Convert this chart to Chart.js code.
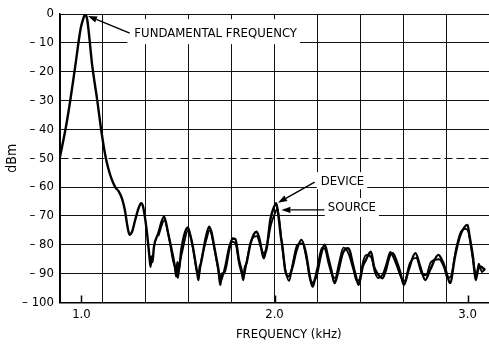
<!DOCTYPE html>
<html>
<head>
<meta charset="utf-8">
<script src="https://cdn.jsdelivr.net/npm/chart.js@4/dist/chart.umd.min.js"></script>
<style>
  html, body { margin: 0; padding: 0; background: #fff; overflow: hidden; }
  canvas { display: block; }
</style>
</head>
<body>
<canvas id="spectrum" width="493" height="346"></canvas>
<script>
// Spectrum of the device output vs. the source, 0.9 – 3.1 kHz
const FONT = "'Liberation Sans Narrow', 'DejaVu Sans Condensed', 'Arial Narrow', sans-serif";

const deviceFreq = [
  0.889, 0.920, 0.942, 0.967, 0.996, 1.010, 1.019, 1.030, 1.056, 1.082,
  1.104, 1.125, 1.141, 1.158, 1.175, 1.193, 1.210, 1.225, 1.238, 1.249,
  1.262, 1.278, 1.295, 1.309, 1.318, 1.328, 1.338, 1.346, 1.352, 1.358,
  1.363, 1.368, 1.375, 1.398, 1.428, 1.449, 1.474, 1.485, 1.491, 1.497,
  1.504, 1.517, 1.535, 1.551, 1.565, 1.577, 1.594, 1.600, 1.606, 1.612,
  1.619, 1.645, 1.662, 1.675, 1.688, 1.700, 1.710, 1.719, 1.727, 1.739,
  1.765, 1.782, 1.797, 1.816, 1.830, 1.838, 1.846, 1.855, 1.876, 1.906,
  1.918, 1.927, 1.944, 1.952, 1.961, 1.978, 1.995, 2.009, 2.021, 2.033,
  2.040, 2.047, 2.055, 2.072, 2.089, 2.115, 2.140, 2.163, 2.183, 2.197,
  2.210, 2.217, 2.243, 2.260, 2.277, 2.294, 2.311, 2.328, 2.354, 2.380,
  2.390, 2.405, 2.422, 2.436, 2.457, 2.473, 2.499, 2.516, 2.533, 2.559,
  2.576, 2.596, 2.613, 2.636, 2.653, 2.670, 2.695, 2.730, 2.755, 2.781,
  2.806, 2.849, 2.875, 2.892, 2.909, 2.935, 2.960, 2.986, 3.000, 3.011,
  3.028, 3.042, 3.054, 3.071, 3.090
];
const deviceDbm = [
  -49.5, -39.0, -30.0, -18.5, -5.0, -1.5, 0.0, -2.0, -18.0, -30.0,
  -41.0, -49.5, -54.0, -57.5, -60.0, -61.5, -64.0, -68.0, -73.5, -76.5,
  -75.5, -71.5, -67.5, -65.6, -66.5, -70.0, -75.0, -80.0, -84.0, -87.6,
  -84.0, -86.0, -81.0, -76.0, -70.3, -76.0, -84.0, -88.0, -91.0, -86.0,
  -89.0, -81.8, -76.0, -74.0, -77.0, -80.7, -87.6, -90.0, -92.2, -88.0,
  -86.4, -77.2, -73.7, -76.0, -80.7, -85.0, -88.7, -93.9, -90.0, -89.9,
  -81.8, -77.8, -78.0, -85.3, -89.0, -92.2, -88.0, -86.4, -79.5, -75.5,
  -77.0, -79.5, -84.7, -83.0, -80.7, -71.4, -67.3, -65.6, -70.3, -77.2,
  -80.0, -84.1, -88.7, -91.0, -88.7, -81.8, -78.3, -82.9, -91.0, -94.5,
  -92.0, -91.0, -82.9, -80.0, -84.1, -88.7, -93.3, -89.9, -82.9, -81.2,
  -82.0, -86.4, -91.0, -93.9, -87.6, -85.3, -82.4, -87.6, -89.9, -91.6,
  -89.0, -84.1, -82.9, -86.4, -89.9, -93.9, -88.7, -82.9, -87.6, -92.2,
  -88.7, -83.5, -86.4, -89.9, -93.3, -84.1, -77.2, -73.7, -73.1, -77.2,
  -84.1, -92.2, -88.7, -87.6, -89.0
];

const sourceFreq = [
  1.398, 1.430, 1.452, 1.476, 1.493, 1.500, 1.510, 1.520, 1.553, 1.580,
  1.597, 1.608, 1.622, 1.648, 1.664, 1.690, 1.712, 1.722, 1.742, 1.768,
  1.785, 1.800, 1.818, 1.840, 1.858, 1.880, 1.908, 1.930, 1.946, 1.964,
  1.982, 2.000, 2.015, 2.026, 2.037, 2.050, 2.060, 2.076, 2.093, 2.118,
  2.144, 2.166, 2.187, 2.200, 2.220, 2.246, 2.262, 2.280, 2.298, 2.314,
  2.332, 2.357, 2.383, 2.408, 2.426, 2.440, 2.460, 2.476, 2.502, 2.520,
  2.537, 2.562, 2.580, 2.600, 2.617, 2.640, 2.657, 2.674, 2.700, 2.734,
  2.760, 2.785, 2.810, 2.853, 2.879, 2.896, 2.913, 2.940, 2.965, 2.990,
  3.004, 3.016, 3.032, 3.046, 3.058, 3.075, 3.090
];
const sourceDbm = [
  -77.0, -71.5, -77.0, -86.0, -89.0, -91.5, -86.0, -83.0, -75.0, -82.0,
  -89.0, -90.5, -85.0, -78.0, -75.0, -82.0, -90.0, -92.5, -88.0, -80.0,
  -79.0, -80.0, -87.0, -91.0, -85.0, -78.5, -77.0, -81.0, -83.0, -79.0,
  -73.0, -69.5, -67.5, -72.0, -79.0, -86.0, -90.0, -92.5, -87.0, -80.0,
  -79.5, -85.0, -92.5, -93.0, -88.5, -81.0, -81.5, -86.5, -90.5, -91.5,
  -87.0, -81.0, -83.0, -88.5, -92.5, -92.0, -85.5, -83.5, -84.5, -89.5,
  -91.5, -90.0, -86.5, -82.5, -84.5, -88.5, -91.5, -92.5, -86.5, -84.5,
  -89.5, -90.5, -86.0, -85.0, -88.0, -91.5, -91.0, -81.5, -75.5, -74.5,
  -75.5, -80.0, -87.0, -90.5, -86.5, -89.5, -88.0
];

const freqLabels = [1.0, 2.0, 3.0];
const dbmTicks = [0, -10, -20, -30, -40, -50, -60, -70, -80, -90, -100];
const dashedDbm = -50;

// analyzer graticule: ten divisions of 2/9 kHz centred on 2.0 kHz
const freqMin = 8 / 9, freqMax = 28 / 9, divisionKHz = 2 / 9;
const graticule = [];
for (let i = 0; i <= 10; i++) graticule.push(freqMin + i * divisionKHz);

const near = (a, b) => Math.abs(a - b) < 1e-6;
const onGraticule = v => graticule.some(g => near(g, v));
const toPoints = (xs, ys) => xs.map((x, i) => ({ x, y: ys[i] }));

// callouts, anchored in data coordinates
const callouts = [
  { text: 'FUNDAMENTAL FREQUENCY', at: [1.274, -6.3], tail: [1.250, -6.6], tip: [1.034, -0.7], pad: [7, 3, 13, 12] },
  { text: 'DEVICE', at: [2.240, -57.6], tail: [2.208, -58.3], tip: [2.018, -65.4], pad: [4, 3, 8, 9] },
  { text: 'SOURCE', at: [2.276, -66.9], tail: [2.258, -67.9], tip: [2.036, -67.9], pad: [3, 3, 9, 10] }
];

function arrow(ctx, x1, y1, x2, y2) {
  const ang = Math.atan2(y2 - y1, x2 - x1), len = 9, half = 3.2;
  const bx = x2 - len * Math.cos(ang), by = y2 - len * Math.sin(ang);
  ctx.beginPath();
  ctx.moveTo(x1, y1);
  ctx.lineTo(bx, by);
  ctx.stroke();
  ctx.beginPath();
  ctx.moveTo(x2, y2);
  ctx.lineTo(bx + half * Math.sin(ang), by - half * Math.cos(ang));
  ctx.lineTo(bx - half * Math.sin(ang), by + half * Math.cos(ang));
  ctx.closePath();
  ctx.fill();
}

const decorations = {
  id: 'decorations',
  afterDraw(chart) {
    const { ctx, chartArea, scales: { x, y } } = chart;
    ctx.save();
    // short inward ticks under the frequency labels
    ctx.strokeStyle = '#000';
    ctx.lineWidth = 1.5;
    freqLabels.forEach(f => {
      const px = Math.round(x.getPixelForValue(f)) + 0.5;
      ctx.beginPath();
      ctx.moveTo(px, chartArea.bottom);
      ctx.lineTo(px, chartArea.bottom - 7);
      ctx.stroke();
    });
    // callout labels with arrows
    ctx.font = '13px ' + FONT;
    ctx.textBaseline = 'middle';
    ctx.textAlign = 'left';
    callouts.forEach(c => {
      const tx = x.getPixelForValue(c.at[0]), ty = y.getPixelForValue(c.at[1]);
      const w = ctx.measureText(c.text).width;
      const [pl, pr, pt, pb] = c.pad;
      ctx.fillStyle = '#fff';
      ctx.fillRect(tx - pl, ty - pt, w + pl + pr, pt + pb);
      ctx.fillStyle = '#000';
      ctx.fillText(c.text, tx, ty + 1);
      ctx.lineWidth = 1.4;
      arrow(ctx, x.getPixelForValue(c.tail[0]), y.getPixelForValue(c.tail[1]),
                 x.getPixelForValue(c.tip[0]), y.getPixelForValue(c.tip[1]));
    });
    // frequency axis title
    ctx.fillText('FREQUENCY (kHz)', x.getPixelForValue(1.8), 335);
    ctx.restore();
  }
};

new Chart(document.getElementById('spectrum'), {
  type: 'line',
  data: {
    datasets: [
      { label: 'DEVICE', data: toPoints(deviceFreq, deviceDbm), borderColor: '#000',
        borderWidth: 2.4, pointRadius: 0, cubicInterpolationMode: 'monotone', fill: false },
      { label: 'SOURCE', data: toPoints(sourceFreq, sourceDbm), borderColor: '#000',
        borderWidth: 1.8, pointRadius: 0, cubicInterpolationMode: 'monotone', fill: false }
    ]
  },
  options: {
    responsive: false,
    animation: false,
    devicePixelRatio: 1,
    layout: { padding: { top: 14, left: 0, right: 0, bottom: 0 } },
    plugins: { legend: { display: false }, tooltip: { enabled: false } },
    scales: {
      x: {
        type: 'linear', min: freqMin, max: freqMax,
        afterBuildTicks: s => {
          const vals = graticule.concat(freqLabels.filter(f => !onGraticule(f))).sort((a, b) => a - b);
          s.ticks = vals.map(v => ({ value: v }));
        },
        afterFit: s => { s.height = 43.5; },
        ticks: {
          autoSkip: false, maxRotation: 0, padding: 4, color: '#000',
          font: { family: FONT, size: 13 },
          callback: v => { const l = freqLabels.find(f => near(f, v)); return l === undefined ? '' : l.toFixed(1); }
        },
        grid: { drawTicks: false, lineWidth: 1, color: c => (c.tick && onGraticule(c.tick.value)) ? '#111' : 'rgba(0,0,0,0)' },
        border: { display: true, color: '#000', width: 1.5 }
      },
      y: {
        min: -100, max: 0,
        afterBuildTicks: s => { s.ticks = dbmTicks.map(v => ({ value: v })); },
        afterFit: s => { s.width = 60; },
        title: { display: true, text: 'dBm', color: '#000', font: { family: FONT, size: 14 }, padding: { top: 4, bottom: 0 } },
        ticks: {
          padding: 6, color: '#000', font: { family: FONT, size: 13 },
          callback: v => v === 0 ? '0' : '\u2013 ' + Math.abs(v)
        },
        grid: { drawTicks: false, lineWidth: 1, color: '#111' },
        border: { display: true, color: '#000', width: 1.5,
          dash: c => (c.tick && c.tick.value === dashedDbm) ? [8, 4] : [] }
      }
    }
  },
  plugins: [decorations]
});
</script>
</body>
</html>
